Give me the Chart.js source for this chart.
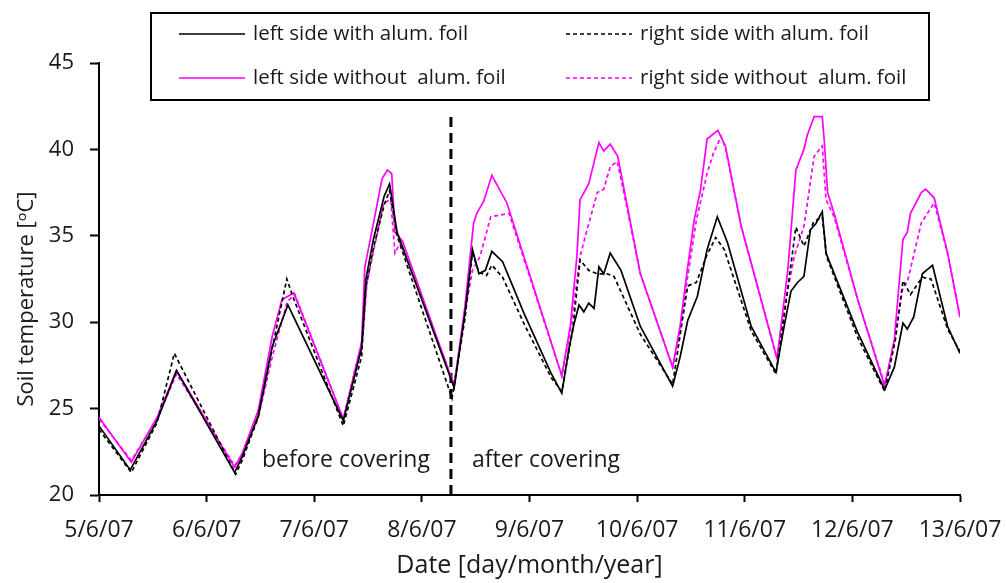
<!DOCTYPE html>
<html lang="en">
<head>
    <meta charset="UTF-8">
    <title>Soil temperature</title>
    <script src="https://cdn.jsdelivr.net/npm/chart.js@4.4.1/dist/chart.umd.min.js"></script>
    <style>
        body { margin: 0; background: #fff; }
        #wrap { width: 1006px; height: 583px; }
    </style>
</head>
<body>
<div id="wrap"><canvas id="soilChart"></canvas></div>
<script>
// x values are days after 5/6/07 00:00
const dayLabels = ['5/6/07', '6/6/07', '7/6/07', '8/6/07', '9/6/07', '10/6/07', '11/6/07', '12/6/07', '13/6/07'];
const yTicks = [20, 25, 30, 35, 40, 45];
const coverDay = 3.27;

// left side with alum. foil
const tLW = [0, 0.29, 0.54, 0.72, 1.26, 1.33, 1.48, 1.61, 1.755, 2.27, 2.44, 2.48, 2.55, 2.65, 2.70, 2.77, 3.30, 3.40, 3.47, 3.53, 3.59, 3.65, 3.75, 3.95, 4.20, 4.30, 4.37, 4.41, 4.46, 4.505, 4.55, 4.60, 4.645, 4.69, 4.75, 4.85, 5.03, 5.33, 5.40, 5.47, 5.56, 5.65, 5.745, 5.84, 6.06, 6.29, 6.37, 6.43, 6.49, 6.55, 6.61, 6.66, 6.72, 6.755, 7.05, 7.30, 7.39, 7.47, 7.51, 7.57, 7.65, 7.745, 7.885, 8.0];
const vLW = [24.0, 21.45, 24.3, 27.2, 21.3, 22.2, 24.6, 28.6, 31.0, 24.3, 28.5, 32.5, 34.8, 37.3, 38.0, 35.2, 26.2, 30.5, 34.2, 32.8, 33.0, 34.1, 33.5, 30.5, 27.05, 25.9, 28.6, 29.8, 31.0, 30.6, 31.1, 30.8, 33.2, 32.8, 34.0, 33.0, 29.75, 26.3, 28.0, 30.1, 31.5, 34.2, 36.1, 34.6, 29.75, 27.1, 29.9, 31.8, 32.3, 32.65, 35.35, 35.7, 36.4, 34.0, 29.4, 26.1, 27.4, 29.95, 29.6, 30.3, 32.8, 33.3, 29.75, 28.2];

// right side with alum. foil
const tRW = [0, 0.30, 0.54, 0.70, 1.27, 1.33, 1.48, 1.61, 1.745, 1.80, 2.27, 2.44, 2.48, 2.55, 2.65, 2.70, 2.77, 3.28, 3.40, 3.47, 3.53, 3.60, 3.65, 3.75, 3.95, 4.20, 4.30, 4.40, 4.47, 4.55, 4.63, 4.72, 4.785, 5.03, 5.33, 5.42, 5.47, 5.55, 5.65, 5.73, 5.81, 6.06, 6.29, 6.38, 6.475, 6.55, 6.64, 6.72, 6.76, 7.05, 7.30, 7.40, 7.47, 7.54, 7.65, 7.73, 7.885, 8.0];
const vRW = [23.8, 21.3, 24.2, 28.2, 21.2, 22.0, 24.5, 28.5, 32.5, 31.5, 24.0, 28.0, 32.0, 34.3, 36.8, 37.6, 35.0, 25.6, 30.2, 34.0, 32.9, 32.7, 33.3, 32.6, 29.9, 26.8, 26.0, 29.5, 33.6, 33.0, 32.8, 32.8, 32.65, 29.3, 26.4, 30.1, 32.1, 32.3, 33.9, 34.9, 34.2, 29.5, 27.0, 31.0, 35.5, 34.4, 35.8, 36.1, 33.8, 29.1, 26.0, 29.0, 32.4, 31.6, 32.6, 32.5, 29.6, 28.3];

// left side without alum. foil
const tLWO = [0, 0.30, 0.54, 0.72, 1.26, 1.33, 1.48, 1.61, 1.70, 1.81, 2.27, 2.44, 2.47, 2.54, 2.63, 2.68, 2.72, 2.75, 2.82, 3.30, 3.40, 3.48, 3.51, 3.575, 3.65, 3.79, 4.30, 4.38, 4.44, 4.47, 4.55, 4.645, 4.69, 4.75, 4.82, 5.03, 5.33, 5.40, 5.47, 5.53, 5.59, 5.65, 5.75, 5.82, 5.965, 6.30, 6.40, 6.475, 6.55, 6.58, 6.645, 6.72, 6.74, 6.77, 6.83, 7.05, 7.30, 7.39, 7.47, 7.51, 7.54, 7.64, 7.68, 7.76, 7.885, 8.0];
const vLWO = [24.5, 21.9, 24.5, 27.2, 21.6, 22.4, 24.9, 29.2, 31.3, 31.7, 24.4, 28.8, 33.2, 35.4, 38.3, 38.8, 38.6, 35.2, 34.7, 26.3, 30.9, 35.7, 36.3, 37.0, 38.5, 36.9, 26.9, 29.8, 33.8, 37.1, 38.0, 40.4, 39.9, 40.3, 39.6, 32.8, 27.4, 29.8, 33.2, 35.9, 37.7, 40.6, 41.1, 40.2, 35.6, 27.9, 33.0, 38.8, 40.0, 40.8, 41.9, 41.9, 40.4, 37.5, 36.3, 31.3, 26.3, 29.0, 34.8, 35.2, 36.3, 37.5, 37.7, 37.2, 34.0, 30.3];

// right side without alum. foil
const tRWO = [0, 0.30, 0.54, 0.72, 1.26, 1.33, 1.48, 1.61, 1.75, 1.82, 2.27, 2.40, 2.45, 2.49, 2.645, 2.71, 2.75, 2.80, 3.30, 3.40, 3.47, 3.54, 3.64, 3.81, 4.30, 4.38, 4.47, 4.52, 4.63, 4.69, 4.75, 4.815, 4.85, 5.03, 5.33, 5.40, 5.47, 5.55, 5.65, 5.71, 5.78, 5.82, 5.965, 6.30, 6.40, 6.46, 6.55, 6.645, 6.72, 6.755, 6.83, 7.05, 7.30, 7.39, 7.47, 7.51, 7.64, 7.76, 7.885, 8.0];
const vRWO = [24.4, 22.0, 24.4, 27.0, 21.7, 22.3, 24.5, 28.0, 31.2, 31.6, 24.4, 27.8, 29.1, 32.3, 36.9, 37.1, 34.0, 34.6, 26.4, 30.6, 33.0, 33.8, 36.1, 36.3, 26.9, 29.5, 33.8, 35.0, 37.5, 37.7, 39.0, 39.3, 38.3, 32.8, 27.4, 29.5, 32.65, 35.9, 38.6, 39.8, 40.75, 40.1, 35.6, 27.9, 31.9, 33.8, 35.55, 39.6, 40.2, 37.1, 36.1, 31.3, 26.4, 28.8, 32.07, 32.3, 35.74, 36.9, 34.0, 30.3];

const FONT = '"Open Sans", "Noto Sans", sans-serif';
const TXT = '#1a1a1a';

function pts(ts, vs) {
    return ts.map((t, i) => ({ x: t, y: vs[i] }));
}

const series = [
    { label: 'left side with alum. foil', data: pts(tLW, vLW), borderColor: '#000000', borderDash: [] },
    { label: 'right side with alum. foil', data: pts(tRW, vRW), borderColor: '#000000', borderDash: [4, 3] },
    { label: 'left side without  alum. foil', data: pts(tLWO, vLWO), borderColor: '#ff00ff', borderDash: [] },
    { label: 'right side without  alum. foil', data: pts(tRWO, vRWO), borderColor: '#ff00ff', borderDash: [4, 3] }
];

const datasets = series.map(s => ({
    label: s.label,
    data: s.data,
    borderColor: s.borderColor,
    borderDash: s.borderDash,
    borderWidth: 1.7,
    pointRadius: 0,
    tension: 0,
    fill: false
}));
// covering moment
datasets.push({
    label: 'cover',
    data: [{ x: coverDay, y: 20 }, { x: coverDay, y: 42.2 }],
    borderColor: '#000000',
    borderDash: [10, 6],
    borderWidth: 3,
    pointRadius: 0,
    fill: false
});

const overlay = {
    id: 'overlay',
    afterDraw(chart) {
        const ctx = chart.ctx;
        const xs = chart.scales.x, ys = chart.scales.y;
        ctx.save();
        // y title
        ctx.fillStyle = TXT;
        ctx.font = '22px ' + FONT;
        ctx.textAlign = 'center';
        ctx.textBaseline = 'middle';
        ctx.save();
        ctx.translate(27, 299);
        ctx.rotate(-Math.PI / 2);
        ctx.fillText('Soil temperature [\u1D52C]', 0, 0);
        ctx.restore();

        // before / after covering
        const cx = xs.getPixelForValue(coverDay);
        const ty = ys.getPixelForValue(22);
        ctx.font = '23px ' + FONT;
        ctx.textAlign = 'right';
        ctx.fillText('before covering', cx - 21, ty);
        ctx.textAlign = 'left';
        ctx.fillText('after covering', cx + 21, ty);

        // legend box
        ctx.lineWidth = 2;
        ctx.strokeStyle = '#000';
        ctx.strokeRect(151, 13, 778, 87);
        const cols = [179, 566];
        const rows = [34, 78];
        ctx.font = '20.5px ' + FONT;
        ctx.textAlign = 'left';
        series.forEach((s, i) => {
            const x0 = cols[i % 2], y0 = rows[Math.floor(i / 2)];
            ctx.beginPath();
            ctx.lineWidth = 1.6;
            ctx.strokeStyle = s.borderColor;
            ctx.setLineDash(s.borderDash);
            ctx.moveTo(x0, y0);
            ctx.lineTo(x0 + 66, y0);
            ctx.stroke();
            ctx.setLineDash([]);
            ctx.fillStyle = TXT;
            ctx.fillText(s.label, x0 + 74, y0);
        });
        ctx.restore();
    }
};

new Chart(document.getElementById('soilChart'), {
    type: 'line',
    data: { datasets: datasets },
    options: {
        responsive: true,
        maintainAspectRatio: false,
        animation: false,
        devicePixelRatio: 1,
        layout: { padding: { left: 0, right: 46, top: 63, bottom: 0 } },
        plugins: { legend: { display: false }, tooltip: { enabled: false } },
        scales: {
            x: {
                type: 'linear',
                min: 0,
                max: 8,
                afterFit: s => { s.height = 88; s.paddingLeft = 0; s.paddingRight = 0; },
                afterBuildTicks: s => { s.ticks = dayLabels.map((l, i) => ({ value: i })); },
                ticks: {
                    callback: v => dayLabels[v],
                    color: TXT,
                    font: { family: FONT, size: 23 },
                    padding: 15,
                    maxRotation: 0,
                    autoSkip: false
                },
                grid: { drawOnChartArea: false, drawTicks: true, tickLength: 7, color: '#000', tickWidth: 2 },
                border: { display: true, color: '#000', width: 2 },
                title: {
                    display: true,
                    text: 'Date [day/month/year]',
                    color: TXT,
                    font: { family: FONT, size: 25 },
                    padding: { top: 0, bottom: 2 }
                }
            },
            y: {
                min: 20,
                max: 45,
                afterFit: s => { s.width = 99; s.paddingTop = 0; s.paddingBottom = 0; },
                afterBuildTicks: s => { s.ticks = yTicks.map(v => ({ value: v })); },
                ticks: {
                    color: TXT,
                    font: { family: FONT, size: 22 },
                    padding: 16
                },
                grid: { drawOnChartArea: false, drawTicks: true, tickLength: 9, color: '#000', tickWidth: 2 },
                border: { display: true, color: '#000', width: 2 }
            }
        }
    },
    plugins: [overlay]
});
</script>
</body>
</html>
